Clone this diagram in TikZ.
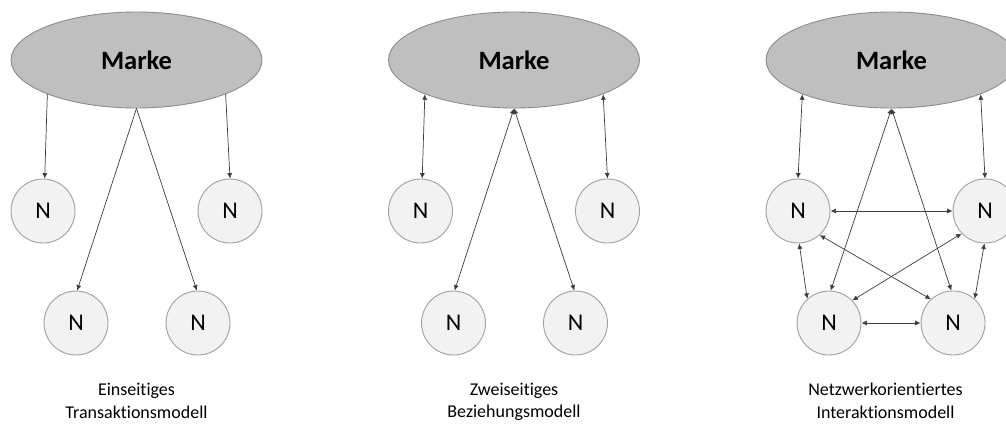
\documentclass[tikz,border=0pt]{standalone}
\usepackage{fontspec}
\setmainfont[Ligatures=NoCommon]{Carlito}
\usetikzlibrary{arrows.meta,positioning,shapes.geometric}
\definecolor{brandfill}{HTML}{BFBFBF}
\definecolor{brandline}{HTML}{8C8C8C}
\definecolor{nodefill}{HTML}{F2F2F2}
\definecolor{nodeline}{HTML}{A0A0A0}
\definecolor{arrowgray}{HTML}{3C3C3C}

\begin{document}
\begin{tikzpicture}[x=1pt,y=-1pt,
  brand/.style={ellipse,draw=brandline,fill=brandfill,line width=0.9pt,minimum width=251pt,
            minimum height=96pt,inner sep=0pt,font=\fontsize{26.5}{30}\selectfont\bfseries},
  nd/.style={circle,draw=nodeline,fill=nodefill,line width=0.9pt,minimum size=64pt,
            inner sep=0pt,on grid,font=\fontsize{24}{28}\selectfont},
  lbl/.style={align=center,inner sep=0pt,on grid,font=\fontsize{18}{22.5}\selectfont},
  a/.style={-{Latex[length=5.5pt,width=5pt]},draw=arrowgray,line width=0.7pt},
  ab/.style={{Latex[length=5.5pt,width=5pt]}-{Latex[length=5.5pt,width=5pt]},draw=arrowgray,line width=0.7pt}
]
  \useasboundingbox (0,0) rectangle (1006,423);
  % brand ellipses
  \node[brand] (m1) at (136.5,60) {Marke};
  \node[brand,on grid,right=377.5pt of m1] (m2) {Marke};
  \node[brand,on grid,right=377.5pt of m2] (m3) {Marke};
  % one-sided model
  \node[nd,below left=151pt and 93.5pt of m1] (a1) {N};
  \node[nd,below right=151pt and 93.5pt of m1] (b1) {N};
  \node[nd,below left=263pt and 60.5pt of m1] (c1) {N};
  \node[nd,below right=263pt and 61.5pt of m1] (d1) {N};
  \node[lbl,below=341pt of m1] (t1) {Einseitiges\\Transaktionsmodell};
  \draw[a] (m1.201) -- (a1.87);
  \draw[a] (m1.339) -- (b1.90);
  \draw[a] (m1.south) -- (c1.88);
  \draw[a] (m1.south) -- (d1.92);
  % two-sided model
  \node[nd,below left=151pt and 93.5pt of m2] (a2) {N};
  \node[nd,below right=151pt and 93.5pt of m2] (b2) {N};
  \node[nd,below left=263pt and 60.5pt of m2] (c2) {N};
  \node[nd,below right=263pt and 61.5pt of m2] (d2) {N};
  \node[lbl,below=342pt of m2] (t2) {Zweiseitiges\\Beziehungsmodell};
  \draw[ab] (m2.201) -- (a2.87);
  \draw[ab] (m2.339) -- (b2.90);
  \draw[ab] (m2.south) -- (c2.88);
  \draw[ab] (m2.south) -- (d2.92);
  % network model
  \node[nd,below left=151pt and 93.5pt of m3] (a3) {N};
  \node[nd,below right=151pt and 93.5pt of m3] (b3) {N};
  \node[nd,below left=263pt and 62.5pt of m3] (c3) {N};
  \node[nd,below right=263pt and 61.5pt of m3] (d3) {N};
  \node[lbl,below=341pt of m3,xshift=-6pt] (t3) {Netzwerkorientiertes\\Interaktionsmodell};
  \draw[ab] (m3.201) -- (a3.90);
  \draw[ab] (m3.339) -- (b3.90);
  \draw[ab] (m3.south) -- (c3.87);
  \draw[ab] (m3.south) -- (d3.93);
  \draw[ab] (a3) -- (b3);
  \draw[ab] (c3) -- (d3);
  \draw[ab] (a3.312) -- (d3.133);
  \draw[ab] (b3.224) -- (c3.44);
  \draw[ab] (a3.272) -- (c3.132);
  \draw[ab] (b3.269) -- (d3.48);
\end{tikzpicture}
\end{document}
